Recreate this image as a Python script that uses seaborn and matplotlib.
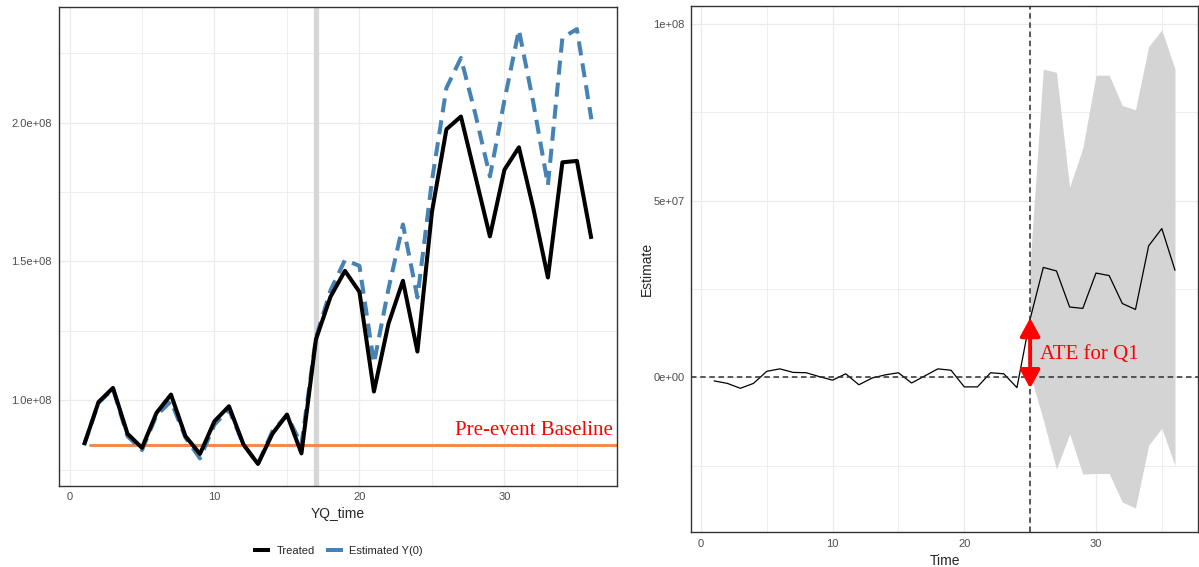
import numpy as np
import pandas as pd
import matplotlib
matplotlib.use("Agg")
import matplotlib.pyplot as plt
from matplotlib.lines import Line2D
from matplotlib.ticker import MultipleLocator, FuncFormatter
import seaborn as sns

# data
time = list(range(1, 37))
treated = [0.838, 0.993, 1.044, 0.879, 0.828, 0.954, 1.020, 0.870, 0.806, 0.924,
           0.978, 0.840, 0.770, 0.879, 0.948, 0.808, 1.219, 1.372, 1.466, 1.390,
           1.031, 1.275, 1.430, 1.175, 1.678, 1.976, 2.022, 1.806, 1.590, 1.830,
           1.911, 1.690, 1.442, 1.857, 1.862, 1.581]
estimated_y0 = [0.838, 0.990, 1.040, 0.870, 0.820, 0.945, 0.996, 0.865, 0.790, 0.912,
                0.966, 0.840, 0.770, 0.888, 0.945, 0.840, 1.225, 1.395, 1.505, 1.484,
                1.133, 1.400, 1.633, 1.370, 1.790, 2.125, 2.233, 2.030, 1.806, 2.080,
                2.334, 2.070, 1.775, 2.306, 2.337, 2.012]
treated = [v * 1e8 for v in treated]
estimated_y0 = [v * 1e8 for v in estimated_y0]
baseline_value = 0.838e8
baseline_x = [1.4, 40]
event_left = 17

ate = [-0.10, -0.17, -0.31, -0.17, 0.17, 0.24, 0.14, 0.13, 0.02, -0.08,
       0.10, -0.21, -0.02, 0.07, 0.13, -0.16, 0.04, 0.24, 0.20, -0.27,
       -0.27, 0.13, 0.10, -0.29, 1.65, 3.11, 3.01, 1.99, 1.95, 2.95,
       2.88, 2.09, 1.92, 3.72, 4.21, 3.03]
ate = [v * 1e7 for v in ate]
ci_time = list(range(25, 37))
ci_upper = [3.2, 8.72, 8.63, 5.38, 6.49, 8.55, 8.55, 7.69, 7.57, 9.36, 9.83, 8.72]
ci_lower = [0.1, -1.2, -2.6, -1.6, -2.74, -2.72, -2.72, -3.53, -3.70, -1.92, -1.44, -2.5]
ci_upper = [v * 1e7 for v in ci_upper]
ci_lower = [v * 1e7 for v in ci_lower]
event_right = 25
arrow_range = [-0.31e7, 1.68e7]

sns.set_style("white")
plt.rcParams['font.family'] = ['Liberation Sans', 'DejaVu Sans']

fig = plt.figure(figsize=(11.99, 5.67), dpi=100)
ax1 = fig.add_axes([0.0489, 0.1434, 0.4655, 0.8436])
ax2 = fig.add_axes([0.5763, 0.0617, 0.4229, 0.9277])

df_left = pd.DataFrame({'YQ_time': time, 'Treated': treated, 'Estimated Y(0)': estimated_y0})
df_right = pd.DataFrame({'Time': time, 'Estimate': ate})

blue = '#4682B4'

# left panel
ax1.axvline(event_left, color='#D6D6D6', lw=3.8, zorder=1)
ax1.plot(baseline_x, [baseline_value] * 2, color='#F28B50', lw=2.2, zorder=2)
sns.lineplot(data=df_left, x='YQ_time', y='Estimated Y(0)', ax=ax1, color=blue,
             lw=2.9, zorder=3)
ax1.lines[-1].set_dashes((3.5, 2))
sns.lineplot(data=df_left, x='YQ_time', y='Treated', ax=ax1, color='black',
             lw=2.9, zorder=4)
ax1.lines[-1].set_solid_capstyle('butt')
ax1.set_xlim(-0.75, 37.75)
ax1.margins(y=0.05)
ax1.text(37.45, 0.89e8, 'Pre-event Baseline', color='red', fontsize=15,
         family='Liberation Serif', ha='right', va='center')
ax1.yaxis.set_major_locator(MultipleLocator(0.5e8))
ax1.yaxis.set_minor_locator(MultipleLocator(0.25e8))
ax1.yaxis.set_major_formatter(FuncFormatter(lambda v, p: f"{v:.1e}"))
ax1.set_xlabel('YQ_time', fontsize=10, labelpad=3.5)
ax1.set_ylabel('')

# right panel
ax2.fill_between(ci_time, ci_lower, ci_upper, color='#D4D4D4', lw=0, zorder=1)
sns.lineplot(data=df_right, x='Time', y='Estimate', ax=ax2, color='black', lw=0.9, zorder=3)
ax2.axhline(0, color='#2E2E2E', lw=1.1, ls=(0, (3.6, 2.4)), zorder=4)
ax2.axvline(event_right, color='#2E2E2E', lw=1.1, ls=(0, (3.6, 2.4)), zorder=4)
ax2.annotate('', xy=(event_right, arrow_range[1]), xytext=(event_right, arrow_range[0]),
             arrowprops=dict(arrowstyle='<|-|>,head_length=0.55,head_width=0.3',
                             mutation_scale=20, color='red', lw=2.8,
                             shrinkA=0, shrinkB=0), zorder=5)
ax2.text(25.76, 0.65e7, 'ATE for Q1', color='red', fontsize=15,
         family='Liberation Serif', ha='left', va='center', zorder=6)
ax2.set_xlim(-0.75, 37.75)
ax2.margins(y=0.05)
ax2.yaxis.set_major_locator(MultipleLocator(5e7))
ax2.yaxis.set_minor_locator(MultipleLocator(2.5e7))
ax2.yaxis.set_major_formatter(FuncFormatter(lambda v, p: f"{v:.0e}"))
ax2.set_xlabel('Time', fontsize=10, labelpad=4)
ax2.set_ylabel('Estimate', fontsize=10, labelpad=-1)

for ax in (ax1, ax2):
    ax.xaxis.set_major_locator(MultipleLocator(10))
    ax.xaxis.set_minor_locator(MultipleLocator(5))
    ax.grid(which='major', color='#EBEBEB', lw=0.9, zorder=0)
    ax.grid(which='minor', color='#EBEBEB', lw=0.6, zorder=0)
    ax.set_axisbelow(True)
    ax.tick_params(which='major', direction='out', length=2.8, width=0.8,
                   color='#333333', labelcolor='#4D4D4D', labelsize=8, pad=2)
    ax.tick_params(which='minor', length=0)
    for s in ax.spines.values():
        s.set_color('#333333')
        s.set_linewidth(1.0)

handles = [Line2D([], [], color='black', lw=2.9, solid_capstyle='butt'),
           Line2D([], [], color=blue, lw=2.9, solid_capstyle='butt')]
fig.legend(handles, ['Treated', 'Estimated Y(0)'], loc='center',
           bbox_to_anchor=(0.282, 0.028), ncol=2, frameon=False, fontsize=8,
           handlelength=1.5, handletextpad=0.6, columnspacing=1.0)

fig.savefig('out.png', dpi=100)
